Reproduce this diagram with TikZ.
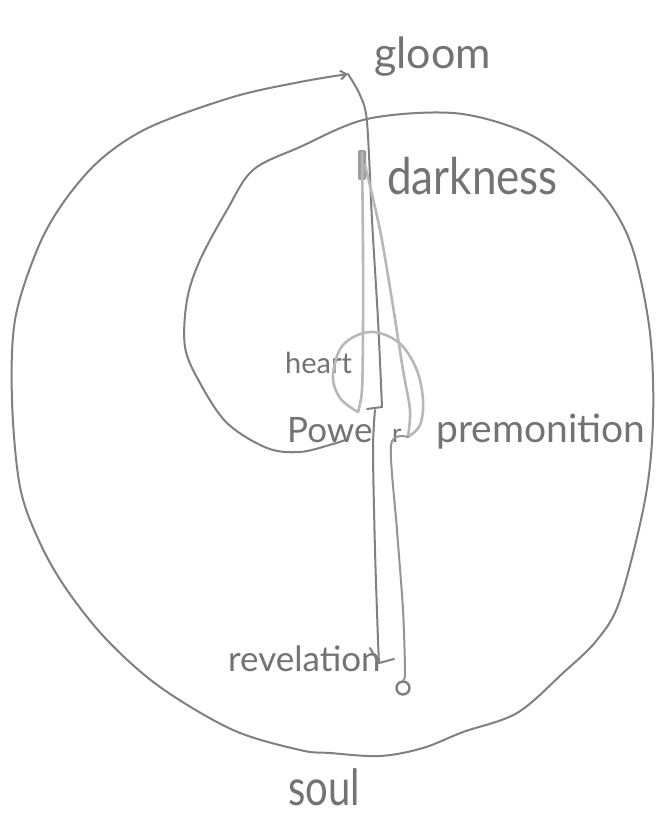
\documentclass[tikz,border=0pt]{standalone}
\usepackage{fontspec}
\setmainfont{Lato}
\usetikzlibrary{arrows.meta}
\definecolor{pencil}{gray}{0.5}
\definecolor{midpencil}{gray}{0.58}
\definecolor{lightpencil}{gray}{0.72}
\definecolor{ink}{gray}{0.45}
\tikzset{
  stroke/.style={draw=pencil, line width=2pt, line cap=round, line join=round},
  midstroke/.style={draw=midpencil, line width=2pt, line cap=round, line join=round},
  faint/.style={draw=lightpencil, line width=2.6pt, line cap=round, line join=round},
  word/.style={text=ink, inner sep=0pt, anchor=base west},
}
\begin{document}
\begin{tikzpicture}[x=1pt,y=-1pt]
\useasboundingbox (0,0) rectangle (658,816);
\fill[white] (0,0) rectangle (658,816);

% named end points
\coordinate (spiralin) at (345,440);
\coordinate (top) at (348,74);
\coordinate (kink) at (382,407);
\coordinate (revtip) at (379,663);
\coordinate (loopbase) at (408,437);
\coordinate (faintA) at (362,153);
\coordinate (faintB) at (365,165);

% labels
\node[word] (gloom) at (374,68) {\fontsize{43}{43}\selectfont gloom};
\node[word] (darkness) at (387,194) {\scalebox{1}[1.15]{\fontsize{44}{44}\selectfont darkness}};
\node[word] (heart) at (285,373) {\fontsize{29}{29}\selectfont heart};
\node[word] (power) at (287,442) {\fontsize{35}{35}\selectfont Powe};
\node[word] (powerr) at (392,442) {\fontsize{26}{26}\selectfont r};
\node[word] (premonition) at (436,442) {\fontsize{39}{39}\selectfont premonition};
\node[word] (revelation) at (228,671) {\fontsize{35}{35}\selectfont revelation};
\node[word] (soul) at (288,805) {\scalebox{0.8}[1]{\fontsize{50}{50}\selectfont soul}};

% outward spiral ending with an arrow at the top
\draw[stroke, -{Straight Barb[length=6pt,width=9pt]}] plot[smooth, tension=0.55] coordinates {
 (spiralin) (333,444) (300,452) (267,448) (227,423) (200,383) (185,347) (187,300)
 (200,260) (227,210) (253,170) (300,147) (367,119) (453,113) (520,130) (563,157)
 (607,200) (633,250) (650,333) (653,420) (645,500) (620,600) (597,640) (563,673)
 (517,713) (463,732) (423,748) (380,756) (330,753) (300,750) (233,730) (160,687)
 (107,640) (67,590) (40,543) (20,487) (12,400) (15,320) (37,250) (63,203)
 (100,160) (150,127) (233,97) (300,82) (top)};

% main dark line from gloom down to revelation
\draw[stroke] plot[smooth, tension=0.5] coordinates {
 (top) (360,95) (367,122) (372,220) (378,320) (kink)};
\draw[stroke] plot[smooth, tension=0.5] coordinates {
 (375,410) (373,450) (375,550) (378,640) (revtip)};
\draw[stroke] (367,409) -- (kink);
\draw[stroke] (370,648) -- (revtip) -- (394,659);

% faint narrow loop under darkness and the heart loop
\fill[lightpencil!85!black, rounded corners=2pt] (358,150) rectangle (366,180);
\draw[faint] plot[smooth, tension=0.5] coordinates {(faintA) (363,250) (363,330) (362,390) (358,412)};
\draw[faint] plot[smooth, tension=0.5] coordinates {(faintB) (380,230) (392,300) (403,370) (410,410) (loopbase)};
\draw[faint] plot[smooth, tension=0.6] coordinates {
 (358,412) (340,398) (333,375) (343,345) (370,332) (398,342) (416,368) (423,400) (420,425) (loopbase)};

% lighter line down to the small seed circle
\node[draw=pencil, line width=2.4pt, circle, minimum size=13pt, inner sep=0pt] (seed) at (403,688) {};
\draw[midstroke] plot[smooth, tension=0.5] coordinates {
 (loopbase) (391,445) (397,530) (403,610) (405,672) (seed.north)};
\end{tikzpicture}
\end{document}
